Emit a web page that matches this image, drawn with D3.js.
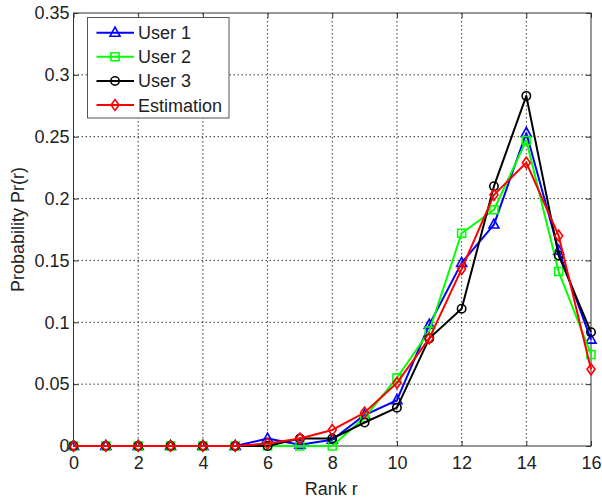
<!DOCTYPE html>
<html><head><meta charset="utf-8">
<script src="https://cdn.jsdelivr.net/npm/d3@7"></script>
<style>html,body{margin:0;padding:0;background:#fff;}svg text{font-family:"Liberation Sans",Arial,sans-serif;}</style>
</head><body>
<svg id="c" width="602" height="502"></svg>
<script>
const ranks = [0,1,2,3,4,5,6,7,8,9,10,11,12,13,14,15,16];
const user1 = [0,0,0,0,0,0,0.006,0.001,0.005,0.025,0.037,0.098,0.148,0.179,0.253,0.158,0.086];
const user2 = [0,0,0,0,0,0,0,0,0,0.023,0.055,0.093,0.172,0.191,0.247,0.141,0.074];
const user3 = [0,0,0,0,0,0,0,0.006,0.006,0.019,0.031,0.087,0.111,0.210,0.283,0.154,0.092];
const estimation = [0,0,0,0,0,0,0.002,0.006,0.013,0.027,0.051,0.087,0.143,0.203,0.229,0.170,0.062];
const seriesNames = ["User 1","User 2","User 3","Estimation"];
const xTicks = [0,2,4,6,8,10,12,14,16];
const yTicks = [0,0.05,0.1,0.15,0.2,0.25,0.3,0.35];
const yTickLabels = ["0","0.05","0.1","0.15","0.2","0.25","0.3","0.35"];

const series = [
  {name: seriesNames[0], values: user1, color: "#0000ff", marker: "tri"},
  {name: seriesNames[1], values: user2, color: "#00ff00", marker: "sq"},
  {name: seriesNames[2], values: user3, color: "#000000", marker: "circ"},
  {name: seriesNames[3], values: estimation, color: "#ff0000", marker: "dia"}
];

const L = 73.5, R = 591, T = 13, B = 446;
const svg = d3.select("#c");
const x = d3.scaleLinear().domain([0,16]).range([L,R]);
const y = d3.scaleLinear().domain([0,0.35]).range([B,T]);

// grid
const g = svg.append("g");
g.selectAll("line.vg").data(xTicks.slice(1,-1)).enter().append("line")
  .attr("x1", d=>x(d)).attr("x2", d=>x(d)).attr("y1", T).attr("y2", B)
  .attr("stroke","#000").attr("stroke-width",0.8).attr("stroke-dasharray","1.5,2.5");
g.selectAll("line.hg").data(yTicks.slice(1,-1)).enter().append("line")
  .attr("y1", d=>y(d)).attr("y2", d=>y(d)).attr("x1", L).attr("x2", R)
  .attr("stroke","#000").attr("stroke-width",0.8).attr("stroke-dasharray","1.5,2.5");

// axes box
svg.append("rect").attr("x",L).attr("y",T).attr("width",R-L).attr("height",B-T)
  .attr("fill","none").attr("stroke","#333").attr("stroke-width",1);

// axes with inward ticks
const xAxis = svg.append("g").attr("transform",`translate(0,${B})`)
  .call(d3.axisBottom(x).tickValues(xTicks).tickSizeInner(-5).tickSizeOuter(0).tickPadding(10).tickFormat(d3.format("d")));
const xAxisTop = svg.append("g").attr("transform",`translate(0,${T})`)
  .call(d3.axisTop(x).tickValues(xTicks).tickSizeInner(-5).tickSizeOuter(0).tickFormat(""));
const yAxis = svg.append("g").attr("transform",`translate(${L},0)`)
  .call(d3.axisLeft(y).tickValues(yTicks).tickSizeInner(-5).tickSizeOuter(0).tickPadding(4).tickFormat((d,i)=>yTickLabels[i]));
const yAxisR = svg.append("g").attr("transform",`translate(${R},0)`)
  .call(d3.axisRight(y).tickValues(yTicks).tickSizeInner(-5).tickSizeOuter(0).tickFormat(""));
[xAxis,xAxisTop,yAxis,yAxisR].forEach(a=>{
  a.select(".domain").remove();
  a.selectAll(".tick line").attr("stroke","#333");
  a.selectAll("text").attr("font-size",18).attr("fill","#222").attr("font-family","Liberation Sans, Arial, sans-serif");
});

svg.append("text").attr("x",(L+R)/2-1).attr("y",495).attr("text-anchor","middle")
  .attr("font-size",18).attr("fill","#222").text("Rank r");
svg.append("text").attr("transform",`translate(24,${(T+B)/2}) rotate(-90)`).attr("text-anchor","middle")
  .attr("font-size",18).attr("fill","#222").text("Probability Pr(r)");

function markerPath(type){
  switch(type){
    case "tri": return "M0,-5.5L5,3.5L-5,3.5Z";
    case "sq": return "M-4,-4L4,-4L4,4L-4,4Z";
    case "circ": return d3.symbol().type(d3.symbolCircle).size(55)();
    case "dia": return "M0,-5.5L4,0L0,5.5L-4,0Z";
  }
}

const line = d3.line().x((d,i)=>x(ranks[i])).y(d=>y(d));
const plot = svg.append("g");
series.forEach(s=>{
  const sg = plot.append("g");
  sg.append("path").datum(s.values).attr("d",line).attr("fill","none")
    .attr("stroke",s.color).attr("stroke-width",2).attr("stroke-linejoin","round");
  sg.selectAll("path.m").data(s.values).enter().append("path")
    .attr("d",markerPath(s.marker))
    .attr("transform",(d,i)=>`translate(${x(ranks[i])},${y(d)})`)
    .attr("fill","none").attr("stroke",s.color).attr("stroke-width",1.6);
});

// legend
const lg = svg.append("g");
lg.append("rect").attr("x",87.5).attr("y",17.5).attr("width",141.5).attr("height",100.5)
  .attr("fill","#fff").attr("stroke","#555").attr("stroke-width",1);
series.forEach((s,i)=>{
  const yy = 32.7 + i*24.1;
  lg.append("line").attr("x1",96.5).attr("x2",134).attr("y1",yy).attr("y2",yy)
    .attr("stroke",s.color).attr("stroke-width",2);
  lg.append("path").attr("d",markerPath(s.marker)).attr("transform",`translate(115,${yy})`)
    .attr("fill","none").attr("stroke",s.color).attr("stroke-width",1.6);
  lg.append("text").attr("x",138).attr("y",yy+6.5).attr("font-size",18).attr("fill","#222").text(s.name);
});
</script>
</body></html>
